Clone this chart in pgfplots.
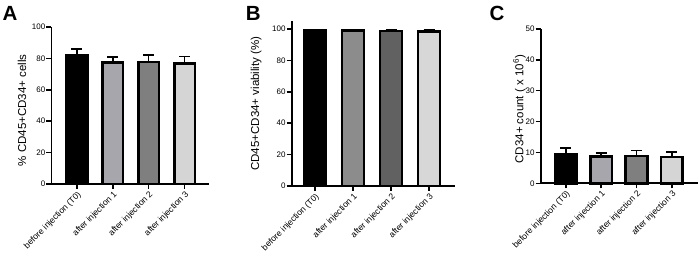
\documentclass[border=0pt]{standalone}
\usepackage{fontspec}
\setmainfont{Liberation Sans}
\usepackage{pgfplots}
\pgfplotsset{compat=1.18}
\definecolor{aTwo}{HTML}{A6A6AC}
\definecolor{aThree}{HTML}{7F7F7F}
\definecolor{aFour}{HTML}{D5D5D5}
\definecolor{bTwo}{HTML}{8C8C8C}
\definecolor{bThree}{HTML}{616161}
\definecolor{bFour}{HTML}{D7D7D7}
\pgfplotsset{
  panel/.style={
    scale only axis,
    anchor=south west,
    axis x line*=bottom, axis y line*=left,
    axis line style={-, line width=1.8pt, black},
    tick align=outside, major tick length=5pt,
    every tick/.style={black, line width=1.5pt},
    xtick={0,1,2,3},
    xticklabels={before injection (T0), after injection 1, after injection 2, after injection 3},
    xticklabel style={rotate=45, anchor=north east, inner sep=1pt, font=\fontsize{8.6}{10}\selectfont},
    yticklabel style={font=\fontsize{8}{9}\selectfont, inner sep=1pt},
    /pgf/number format/assume math mode=true,
    ymin=0,
    ybar, bar shift=0pt,
    clip=false,
  },
  barp/.style={fill=#1, draw=black, line width=2.6pt, bar shift=0pt,
    /pgfplots/error bars/y dir=plus,
    /pgfplots/error bars/y explicit,
    /pgfplots/error bars/error bar style={line width=1.6pt, black},
    /pgfplots/error bars/error mark options={rotate=90, mark size=5.5pt, line width=1.6pt, black}},
}
\begin{document}
\begin{tikzpicture}
\path[use as bounding box] (0,0) rectangle (699pt,264pt);
% Panel A
\begin{axis}[panel, at={(51.5pt,80pt)}, width=157.8pt, height=157pt,
  xmin=-0.71, xmax=3.69, ymax=100, ytick={0,20,40,60,80,100},
  bar width=20.7pt,
  ylabel={\% CD45+CD34+ cells},
  ylabel style={at={(axis description cs:-0.187,0.47)}, anchor=center, font=\fontsize{11.5}{13}\selectfont}]
\addplot[barp=black] coordinates {(0,82.2) +- (0,3.8)};
\addplot[barp=aTwo] coordinates {(1,77.5) +- (0,3.4)};
\addplot[barp=aThree] coordinates {(2,77.6) +- (0,4.4)};
\addplot[barp=aFour] coordinates {(3,76.9) +- (0,4.2)};
\end{axis}
% Panel B
\begin{axis}[panel, at={(291.7pt,78pt)}, width=163.3pt, height=164.9pt,
  xmin=-0.61, xmax=3.68, ymax=105, ytick={0,20,40,60,80,100},
  bar width=22pt,
  ylabel={CD45+CD34+ viability (\%)},
  ylabel style={at={(axis description cs:-0.217,0.5)}, anchor=center, font=\fontsize{11.5}{13}\selectfont}]
\addplot[barp=black] coordinates {(0,99.2) +- (0,0.4)};
\addplot[barp=bTwo] coordinates {(1,98.9) +- (0,0.5)};
\addplot[barp=bThree] coordinates {(2,98.6) +- (0,0.7)};
\addplot[barp=bFour] coordinates {(3,98.3) +- (0,0.9)};
\end{axis}
% Panel C
\begin{axis}[panel, at={(540.7pt,80.7pt)}, width=157.3pt, height=154.3pt,
  xmin=-0.71, xmax=3.74, ymax=50, ytick={0,10,20,30,40,50},
  bar width=21.7pt,
  ylabel={CD34+ count ( x 10\textsuperscript{6})},
  ylabel style={at={(axis description cs:-0.135,0.48)}, anchor=center, font=\fontsize{11.5}{13}\selectfont}]
\addplot[barp=black] coordinates {(0,9.4) +- (0,2.1)};
\addplot[barp=aTwo] coordinates {(1,8.6) +- (0,1.3)};
\addplot[barp=aThree] coordinates {(2,8.9) +- (0,1.7)};
\addplot[barp=aFour] coordinates {(3,8.5) +- (0,1.7)};
\end{axis}
\node[anchor=north west, inner sep=0pt, font=\fontsize{20.5}{22}\selectfont\bfseries] at (2.5pt,258pt) {A};
\node[anchor=north west, inner sep=0pt, font=\fontsize{20.5}{22}\selectfont\bfseries] at (245.7pt,257.3pt) {B};
\node[anchor=north west, inner sep=0pt, font=\fontsize{20.5}{22}\selectfont\bfseries] at (489.3pt,258pt) {C};
\end{tikzpicture}
\end{document}
